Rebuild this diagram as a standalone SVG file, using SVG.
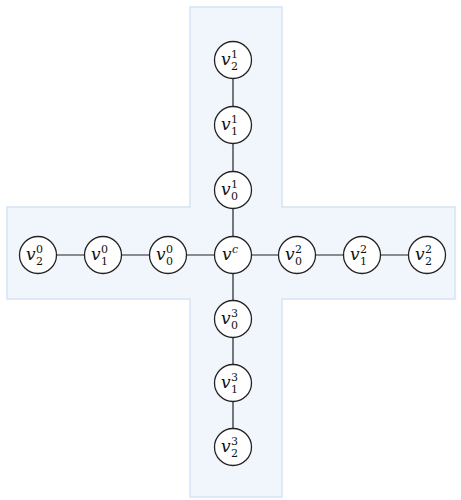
<svg xmlns="http://www.w3.org/2000/svg" width="461" height="500" viewBox="0 0 461 500">
  <style>
    .band { fill: #f1f6fd; stroke: #d6e3f3; stroke-width: 1.5; }
    .edge { stroke: #222; stroke-width: 1.2; fill: none; }
    .node circle { fill: #fff; stroke: #222; stroke-width: 1.3; }
    .node text { font-family: "DejaVu Serif", "Liberation Serif", serif; fill: #111; }
    .v { font-size: 17px; font-style: italic; }
    .s { font-size: 11px; }
  </style>

  <!-- cross-shaped background region -->
  <path class="band" d="M190,7 H282 V207 H455 V299 H282 V497 H190 V299 H7 V207 H190 Z"/>

  <g id="edges">
    <line class="edge" x1="38" y1="255" x2="427" y2="255"/>
    <line class="edge" x1="233" y1="60" x2="233" y2="447"/>
  </g>

  <!-- each node: italic v with superscript (branch) and subscript (index) -->
  <g id="v1_2" class="node"><circle cx="233" cy="60" r="18.5"/><text x="221" y="65"><tspan class="v">v</tspan><tspan class="s" dx="0.5" dy="-7.5">1</tspan><tspan class="s" dx="-7" dy="12">2</tspan></text></g>
  <g id="v1_1" class="node"><circle cx="233" cy="125" r="18.5"/><text x="221" y="130"><tspan class="v">v</tspan><tspan class="s" dx="0.5" dy="-7.5">1</tspan><tspan class="s" dx="-7" dy="12">1</tspan></text></g>
  <g id="v1_0" class="node"><circle cx="233" cy="190" r="18.5"/><text x="221" y="195"><tspan class="v">v</tspan><tspan class="s" dx="0.5" dy="-7.5">1</tspan><tspan class="s" dx="-7" dy="12">0</tspan></text></g>

  <g id="v0_2" class="node"><circle cx="38" cy="255" r="18.5"/><text x="26" y="260"><tspan class="v">v</tspan><tspan class="s" dx="0.5" dy="-7.5">0</tspan><tspan class="s" dx="-7" dy="12">2</tspan></text></g>
  <g id="v0_1" class="node"><circle cx="103" cy="255" r="18.5"/><text x="91" y="260"><tspan class="v">v</tspan><tspan class="s" dx="0.5" dy="-7.5">0</tspan><tspan class="s" dx="-7" dy="12">1</tspan></text></g>
  <g id="v0_0" class="node"><circle cx="168" cy="255" r="18.5"/><text x="156" y="260"><tspan class="v">v</tspan><tspan class="s" dx="0.5" dy="-7.5">0</tspan><tspan class="s" dx="-7" dy="12">0</tspan></text></g>

  <g id="vc" class="node"><circle cx="233" cy="255" r="18.5"/><text x="222" y="260"><tspan class="v">v</tspan><tspan class="s" font-style="italic" dx="0.5" dy="-7">c</tspan></text></g>

  <g id="v2_0" class="node"><circle cx="297" cy="255" r="18.5"/><text x="285" y="260"><tspan class="v">v</tspan><tspan class="s" dx="0.5" dy="-7.5">2</tspan><tspan class="s" dx="-7" dy="12">0</tspan></text></g>
  <g id="v2_1" class="node"><circle cx="362" cy="255" r="18.5"/><text x="350" y="260"><tspan class="v">v</tspan><tspan class="s" dx="0.5" dy="-7.5">2</tspan><tspan class="s" dx="-7" dy="12">1</tspan></text></g>
  <g id="v2_2" class="node"><circle cx="427" cy="255" r="18.5"/><text x="415" y="260"><tspan class="v">v</tspan><tspan class="s" dx="0.5" dy="-7.5">2</tspan><tspan class="s" dx="-7" dy="12">2</tspan></text></g>

  <g id="v3_0" class="node"><circle cx="233" cy="319" r="18.5"/><text x="221" y="324"><tspan class="v">v</tspan><tspan class="s" dx="0.5" dy="-7.5">3</tspan><tspan class="s" dx="-7" dy="12">0</tspan></text></g>
  <g id="v3_1" class="node"><circle cx="233" cy="383" r="18.5"/><text x="221" y="388"><tspan class="v">v</tspan><tspan class="s" dx="0.5" dy="-7.5">3</tspan><tspan class="s" dx="-7" dy="12">1</tspan></text></g>
  <g id="v3_2" class="node"><circle cx="233" cy="447" r="18.5"/><text x="221" y="452"><tspan class="v">v</tspan><tspan class="s" dx="0.5" dy="-7.5">3</tspan><tspan class="s" dx="-7" dy="12">2</tspan></text></g>
</svg>
